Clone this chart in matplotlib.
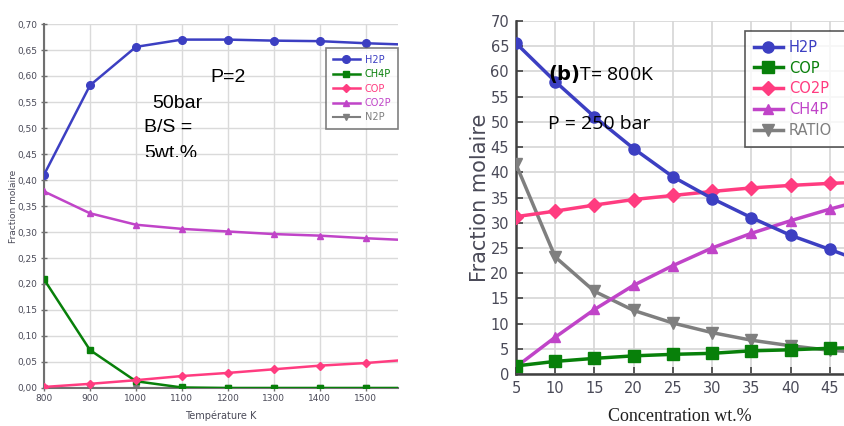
import numpy as np
import matplotlib
matplotlib.use('Agg')
from matplotlib import pyplot as plt
from matplotlib.transforms import Bbox
from matplotlib.ticker import FuncFormatter

# left panel: molar fraction vs temperature
temp = [800, 900, 1000, 1100, 1200, 1300, 1400, 1500, 1600]
h2_t = [0.410, 0.582, 0.656, 0.670, 0.670, 0.668, 0.667, 0.663, 0.660]
ch4_t = [0.209, 0.073, 0.013, 0.001, 0.0, 0.0, 0.0, 0.0, 0.0]
co_t = [0.002, 0.008, 0.015, 0.023, 0.029, 0.036, 0.043, 0.048, 0.055]
co2_t = [0.378, 0.336, 0.314, 0.306, 0.301, 0.296, 0.293, 0.288, 0.284]
n2_t = [0.0, 0.0, 0.0, 0.0, 0.0, 0.0, 0.0, 0.0, 0.0]

# right panel: molar fraction vs concentration
conc = [5, 10, 15, 20, 25, 30, 35, 40, 45, 50]
h2_c = [65.6, 58.0, 51.0, 44.7, 39.1, 34.8, 31.0, 27.5, 24.7, 21.8]
co_c = [1.6, 2.5, 3.1, 3.6, 3.9, 4.1, 4.6, 4.8, 5.1, 5.3]
co2_c = [31.2, 32.3, 33.5, 34.6, 35.4, 36.2, 36.9, 37.4, 37.8, 38.1]
ch4_c = [1.4, 7.3, 12.8, 17.6, 21.5, 25.0, 27.9, 30.4, 32.7, 34.8]
ratio_c = [41.6, 23.2, 16.4, 12.6, 10.1, 8.2, 6.7, 5.6, 4.7, 4.2]

BLUE = '#3c3fc2'
GREEN = '#08800a'
PINK = '#ff3c80'
MAGENTA = '#c044c8'
GREY = '#7f7f7f'
TICKC = '#4a4a58'

W, H = 844, 426
fig = plt.figure(figsize=(W / 100, H / 100), dpi=100)

def px_axes(x0, y0, x1, y1):
    return fig.add_axes([x0 / W, 1 - y1 / H, (x1 - x0) / W, (y1 - y0) / H])

# ---------- left ----------
ax1 = px_axes(44, 24, 398, 388)
ax1.plot(temp, n2_t, '-v', color=GREY, lw=1.5, ms=5, label='N2P', zorder=2)
ax1.plot(temp, ch4_t, '-s', color=GREEN, lw=1.8, ms=5, label='CH4P', zorder=3)
ax1.plot(temp, co_t, '-D', color=PINK, lw=1.8, ms=4, label='COP', zorder=3)
ax1.plot(temp, co2_t, '-^', color=MAGENTA, lw=1.8, ms=4, label='CO2P', zorder=3)
ax1.plot(temp, h2_t, '-o', color=BLUE, lw=1.8, ms=5.5, label='H2P', zorder=4)
ax1.set_xlim(800, 1570)
ax1.set_ylim(0, 0.70)
ax1.set_xticks(range(800, 1600, 100))
ax1.set_yticks(np.arange(0, 0.701, 0.05))
ax1.yaxis.set_major_formatter(FuncFormatter(lambda v, p: f'{v:.2f}'.replace('.', ',')))
ax1.grid(True, color='#dadada', lw=1)
ax1.set_axisbelow(True)
for s in ['top', 'right']:
    ax1.spines[s].set_visible(False)
for s in ['left', 'bottom']:
    ax1.spines[s].set_color('#707070')
    ax1.spines[s].set_linewidth(1.5)
ax1.tick_params(direction='inout', length=5, width=1, colors='#707070',
                labelsize=6.5, labelcolor=TICKC, pad=2)
ax1.set_xlabel('Température K', fontsize=7, color=TICKC, labelpad=5)
ax1.set_ylabel('Fraction molaire', fontsize=6.5, color=TICKC)
ax1.yaxis.set_label_coords(-26 / 354, 0.5)

hs, ls = ax1.get_legend_handles_labels()
order = [4, 1, 2, 3, 0]
leg1 = ax1.legend([hs[i] for i in order], [ls[i] for i in order],
                  loc='upper left', bbox_to_anchor=(326 / W, 1 - 48 / H),
                  bbox_transform=fig.transFigure, borderaxespad=0,
                  fontsize=7, frameon=True, fancybox=False,
                  edgecolor='#606060', handlelength=2.8, labelspacing=0.45,
                  borderpad=0.7, handletextpad=0.5)
leg1.get_frame().set_linewidth(1.2)
for t, h in zip(leg1.get_texts(), leg1.legend_handles):
    t.set_color(h.get_color())

def ftext(x, y, s, **kw):
    return fig.text(x / W, 1 - y / H, s, va='center', ha='left', **kw)

ftext(210, 78, 'P=2', fontsize=14, family='Liberation Sans')
ftext(152, 103, '50bar', fontsize=14, family='Liberation Sans')
ftext(144, 128, 'B/S =', fontsize=14, family='Liberation Sans')
t5 = ftext(144, 153, '5wt.%', fontsize=14, family='Liberation Sans')
t5.set_clip_box(Bbox.from_extents(0, H - 157, W, H))
t5.set_clip_on(True)

# ---------- right ----------
ax2 = px_axes(516, 21, 844, 374)
ax2.plot(conc, ratio_c, '-v', color=GREY, lw=2.5, ms=8, label='RATIO', zorder=3)
ax2.plot(conc, ch4_c, '-^', color=MAGENTA, lw=2.5, ms=7, label='CH4P', zorder=3)
ax2.plot(conc, co2_c, '-D', color=PINK, lw=2.5, ms=7, label='CO2P', zorder=3)
ax2.plot(conc, co_c, '-s', color=GREEN, lw=2.5, ms=8, label='COP', zorder=4)
ax2.plot(conc, h2_c, '-o', color=BLUE, lw=2.5, ms=8, label='H2P', zorder=4)
ax2.set_xlim(5, 46.8)
ax2.set_ylim(0, 70)
ax2.set_xticks(range(5, 50, 5))
ax2.set_yticks(range(0, 71, 5))
ax2.grid(True, color='#d6d6d6', lw=1.2)
ax2.set_axisbelow(True)
for s in ['top', 'right']:
    ax2.spines[s].set_visible(False)
for s in ['left', 'bottom']:
    ax2.spines[s].set_color('#404040')
    ax2.spines[s].set_linewidth(1.8)
ax2.tick_params(direction='in', length=5, width=1.2, colors='#404040',
                labelsize=10.5, labelcolor=TICKC, pad=5)
ax2.set_ylabel('Fraction molaire', fontsize=15, color=TICKC, labelpad=0)
ax2.set_xlabel('Concentration wt.%', fontsize=13, family='Liberation Serif',
               color='#202020', labelpad=9)

hs, ls = ax2.get_legend_handles_labels()
order = [4, 3, 2, 1, 0]
leg2 = ax2.legend([hs[i] for i in order], [ls[i] for i in order],
                  loc='upper left', bbox_to_anchor=(745 / W, 1 - 31 / H, 115 / W, 0),
                  bbox_transform=fig.transFigure, borderaxespad=0, mode='expand',
                  fontsize=10.5, frameon=True, fancybox=False,
                  edgecolor='#303030', handlelength=2.0, labelspacing=0.4,
                  borderpad=0.6, handletextpad=0.4)
leg2.get_frame().set_linewidth(1.2)
for t, h in zip(leg2.get_texts(), leg2.legend_handles):
    t.set_color(h.get_color())

ftext(548, 74, r'$\mathbf{(b)}$T= 800K', fontsize=14, family='Open Sans')
ftext(548, 124, 'P = 250 bar', fontsize=14, family='Open Sans')

plt.savefig('out.png', dpi=100)
